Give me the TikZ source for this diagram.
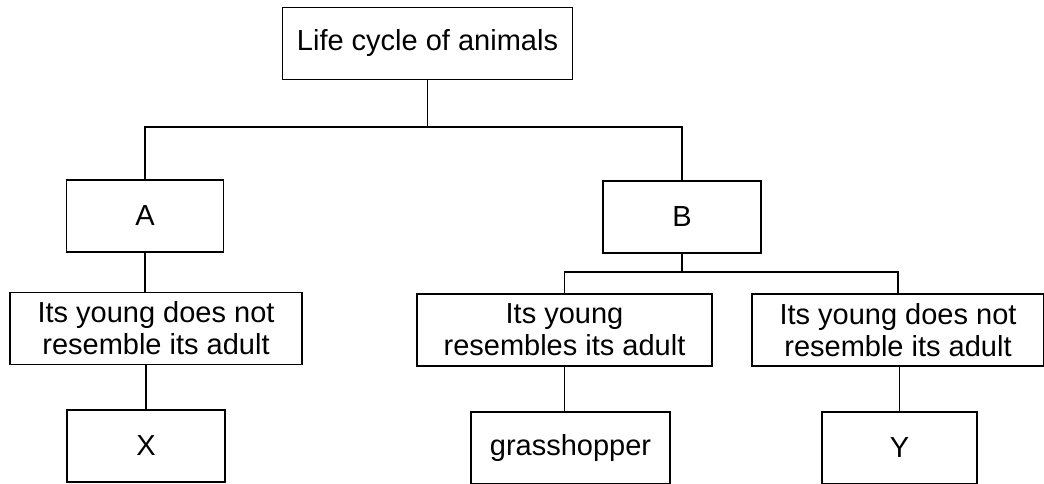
\documentclass[tikz,border=0pt]{standalone}
\usepackage{fontspec}
\setmainfont{Liberation Sans}
\begin{document}
\begin{tikzpicture}[x=1pt, y=-1pt, line width=1.2pt,
    box/.style={draw, minimum height=72pt, inner sep=0pt, align=center,
        font=\fontsize{29}{32}\selectfont}]
    \useasboundingbox (0,0) rectangle (1044,484);
    % Boxes
    \node[box, minimum width=290pt] (top) at (427.5,43.5) {Life cycle of animals};
    \node[box, minimum width=157pt] (A) at (145,216) {A};
    \node[box, minimum width=158pt] (B) at (682,217) {B};
    \node[box, minimum width=292pt] (t1) at (156,328.5) {Its young does not\\resemble its adult};
    \node[box, minimum width=295pt] (t2) at (564.5,330) {Its young\\resembles its adult};
    \node[box, minimum width=292pt] (t3) at (898,330) {Its young does not\\resemble its adult};
    \node[box, minimum width=158pt] (X) at (146,446) {X};
    \node[box, minimum width=199pt] (G) at (570.5,448) {grasshopper};
    \node[box, minimum width=155pt] (Y) at (899.5,448) {Y};
    % Connectors
    \coordinate (split1) at (top.south |- 0,127);
    \coordinate (split2) at (B.south |- 0,272);
    \draw (top.south) -- (split1);
    \draw (A.north) |- (split1) -| (B.north);
    \draw (B.south) -- (split2);
    \draw (t2.north) |- (split2) -| (t3.north);
    \draw (A.south) -- (A.south |- t1.north);
    \draw (X.north) -- (X.north |- t1.south);
    \draw (t2.south) -- (t2.south |- G.north);
    \draw (Y.north) -- (Y.north |- t3.south);
\end{tikzpicture}
\end{document}
